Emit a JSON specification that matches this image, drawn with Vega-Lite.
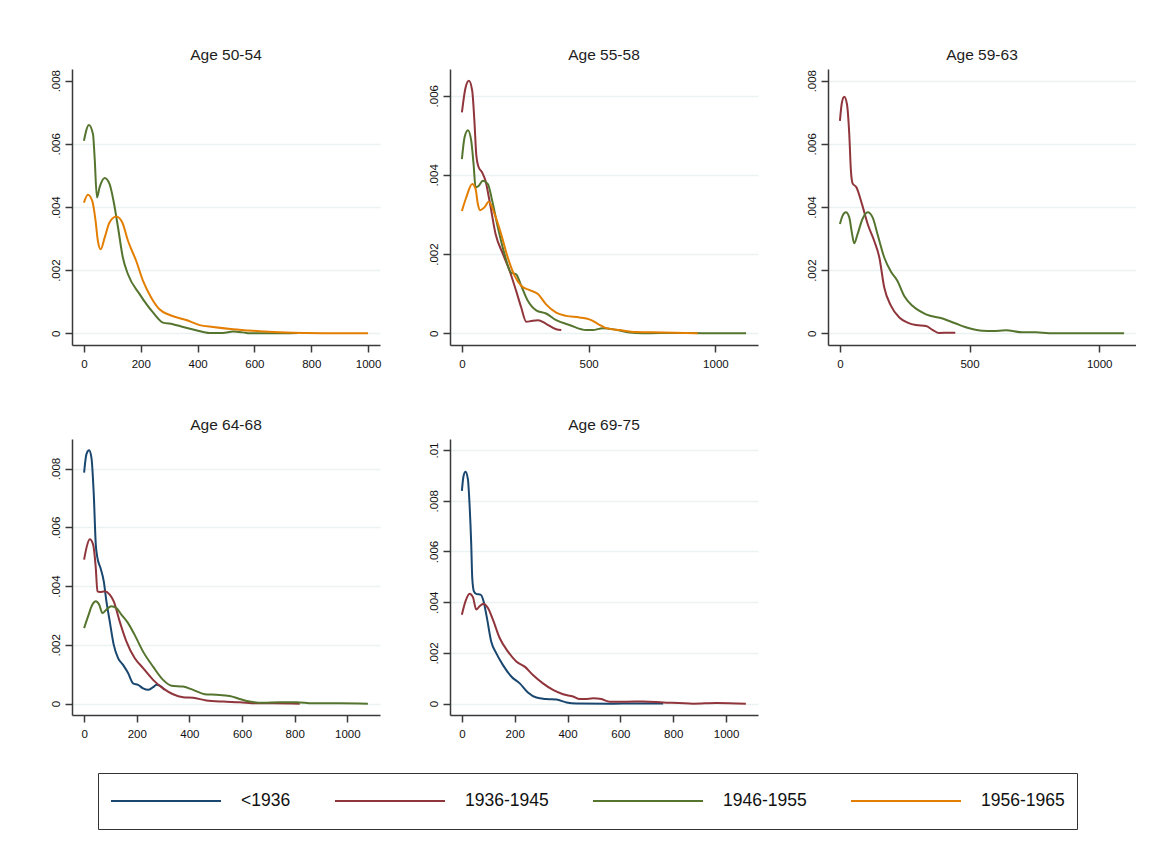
{
  "$schema": "https://vega.github.io/schema/vega-lite/v6.json",
  "padding": {"left": 49, "top": 47, "right": 0, "bottom": 0},
  "background": "white",
  "config": {
    "font": "Liberation Sans",
    "view": {"stroke": null},
    "title": {"font": "Liberation Sans", "fontSize": 15.5, "fontWeight": "normal", "color": "#1e1e1e", "offset": 6, "anchor": "middle"},
    "axis": {
      "domainColor": "#3a3a3a", "domainWidth": 1.5,
      "tickColor": "#3a3a3a", "tickWidth": 1.5, "tickSize": 7,
      "labelFont": "Liberation Sans", "labelFontSize": 11.5, "labelColor": "#111111",
      "gridColor": "#eaf2f3", "gridWidth": 1.3, "title": null
    },
    "axisX": {"grid": false, "labelPadding": 6, "labelFlush": false, "labelOverlap": false, "format": "d"},
    "axisY": {"grid": true, "labelAngle": 270, "labelAlign": "center", "labelBaseline": "bottom", "labelPadding": 4, "labelOverlap": false,
      "labelExpr": "datum.value == 0 ? '0' : replace(format(datum.value, '~g'), '0.', '.')"},
    "line": {"strokeWidth": 2, "interpolate": "monotone"}
  },
  "datasets": {
    "curves": [
      {"p":"Age 50-54","c":"1946-1955","x":0,"y":0.0061},{"p":"Age 50-54","c":"1946-1955","x":17.6,"y":0.0066},{"p":"Age 50-54","c":"1946-1955","x":32,"y":0.0063},{"p":"Age 50-54","c":"1946-1955","x":37.6,"y":0.00557},{"p":"Age 50-54","c":"1946-1955","x":45.8,"y":0.0043},{"p":"Age 50-54","c":"1946-1955","x":55,"y":0.00462},{"p":"Age 50-54","c":"1946-1955","x":73,"y":0.00492},{"p":"Age 50-54","c":"1946-1955","x":90,"y":0.00473},{"p":"Age 50-54","c":"1946-1955","x":104,"y":0.0042},{"p":"Age 50-54","c":"1946-1955","x":120,"y":0.00335},{"p":"Age 50-54","c":"1946-1955","x":137,"y":0.0024},{"p":"Age 50-54","c":"1946-1955","x":155,"y":0.00187},{"p":"Age 50-54","c":"1946-1955","x":196,"y":0.00124},{"p":"Age 50-54","c":"1946-1955","x":243,"y":0.00066},{"p":"Age 50-54","c":"1946-1955","x":278,"y":0.00034},{"p":"Age 50-54","c":"1946-1955","x":313,"y":0.00029},{"p":"Age 50-54","c":"1946-1955","x":349,"y":0.0002},{"p":"Age 50-54","c":"1946-1955","x":395,"y":0.0001},{"p":"Age 50-54","c":"1946-1955","x":442,"y":0.00001},{"p":"Age 50-54","c":"1946-1955","x":489,"y":0.00001},{"p":"Age 50-54","c":"1946-1955","x":525,"y":0.00006},{"p":"Age 50-54","c":"1946-1955","x":560,"y":0.00003},{"p":"Age 50-54","c":"1946-1955","x":583,"y":0},{"p":"Age 50-54","c":"1946-1955","x":665,"y":0},{"p":"Age 50-54","c":"1946-1955","x":753,"y":0.00001},
      {"p":"Age 50-54","c":"1956-1965","x":0,"y":0.00414},{"p":"Age 50-54","c":"1956-1965","x":14,"y":0.00439},{"p":"Age 50-54","c":"1956-1965","x":29,"y":0.0042},{"p":"Age 50-54","c":"1956-1965","x":41,"y":0.00356},{"p":"Age 50-54","c":"1956-1965","x":49,"y":0.00293},{"p":"Age 50-54","c":"1956-1965","x":59,"y":0.00266},{"p":"Age 50-54","c":"1956-1965","x":73,"y":0.00303},{"p":"Age 50-54","c":"1956-1965","x":90,"y":0.00351},{"p":"Age 50-54","c":"1956-1965","x":114,"y":0.0037},{"p":"Age 50-54","c":"1956-1965","x":135,"y":0.00351},{"p":"Age 50-54","c":"1956-1965","x":155,"y":0.00293},{"p":"Age 50-54","c":"1956-1965","x":184,"y":0.00229},{"p":"Age 50-54","c":"1956-1965","x":208,"y":0.00166},{"p":"Age 50-54","c":"1956-1965","x":237,"y":0.00113},{"p":"Age 50-54","c":"1956-1965","x":266,"y":0.00076},{"p":"Age 50-54","c":"1956-1965","x":302,"y":0.00058},{"p":"Age 50-54","c":"1956-1965","x":360,"y":0.00042},{"p":"Age 50-54","c":"1956-1965","x":407,"y":0.00026},{"p":"Age 50-54","c":"1956-1965","x":454,"y":0.0002},{"p":"Age 50-54","c":"1956-1965","x":525,"y":0.00013},{"p":"Age 50-54","c":"1956-1965","x":595,"y":0.00008},{"p":"Age 50-54","c":"1956-1965","x":665,"y":0.00004},{"p":"Age 50-54","c":"1956-1965","x":783,"y":0.00001},{"p":"Age 50-54","c":"1956-1965","x":900,"y":0},{"p":"Age 50-54","c":"1956-1965","x":1000,"y":0},

      {"p":"Age 55-58","c":"1936-1945","x":0,"y":0.00558},{"p":"Age 55-58","c":"1936-1945","x":14.5,"y":0.00621},{"p":"Age 55-58","c":"1936-1945","x":27.6,"y":0.00638},{"p":"Age 55-58","c":"1936-1945","x":40.7,"y":0.00612},{"p":"Age 55-58","c":"1936-1945","x":50,"y":0.00528},{"p":"Age 55-58","c":"1936-1945","x":56.5,"y":0.00452},{"p":"Age 55-58","c":"1936-1945","x":65.7,"y":0.0042},{"p":"Age 55-58","c":"1936-1945","x":80,"y":0.00406},{"p":"Age 55-58","c":"1936-1945","x":93,"y":0.00385},{"p":"Age 55-58","c":"1936-1945","x":109,"y":0.00334},{"p":"Age 55-58","c":"1936-1945","x":133,"y":0.0025},{"p":"Age 55-58","c":"1936-1945","x":162,"y":0.002},{"p":"Age 55-58","c":"1936-1945","x":188,"y":0.00158},{"p":"Age 55-58","c":"1936-1945","x":214,"y":0.00107},{"p":"Age 55-58","c":"1936-1945","x":234,"y":0.00065},{"p":"Age 55-58","c":"1936-1945","x":254,"y":0.00029},{"p":"Age 55-58","c":"1936-1945","x":273,"y":0.00031},{"p":"Age 55-58","c":"1936-1945","x":300,"y":0.00033},{"p":"Age 55-58","c":"1936-1945","x":332,"y":0.00024},{"p":"Age 55-58","c":"1936-1945","x":372,"y":0.0001},{"p":"Age 55-58","c":"1936-1945","x":392,"y":0.00008},
      {"p":"Age 55-58","c":"1946-1955","x":0,"y":0.0044},{"p":"Age 55-58","c":"1946-1955","x":10.5,"y":0.00495},{"p":"Age 55-58","c":"1946-1955","x":23.7,"y":0.00513},{"p":"Age 55-58","c":"1946-1955","x":36.8,"y":0.00486},{"p":"Age 55-58","c":"1946-1955","x":46,"y":0.00427},{"p":"Age 55-58","c":"1946-1955","x":54,"y":0.00368},{"p":"Age 55-58","c":"1946-1955","x":65.7,"y":0.00372},{"p":"Age 55-58","c":"1946-1955","x":82.8,"y":0.00385},{"p":"Age 55-58","c":"1946-1955","x":102.5,"y":0.00377},{"p":"Age 55-58","c":"1946-1955","x":119.6,"y":0.00334},{"p":"Age 55-58","c":"1946-1955","x":142,"y":0.00267},{"p":"Age 55-58","c":"1946-1955","x":168,"y":0.002},{"p":"Age 55-58","c":"1946-1955","x":194,"y":0.00153},{"p":"Age 55-58","c":"1946-1955","x":214,"y":0.00149},{"p":"Age 55-58","c":"1946-1955","x":234,"y":0.0012},{"p":"Age 55-58","c":"1946-1955","x":260,"y":0.00082},{"p":"Age 55-58","c":"1946-1955","x":293,"y":0.00058},{"p":"Age 55-58","c":"1946-1955","x":332,"y":0.0005},{"p":"Age 55-58","c":"1946-1955","x":372,"y":0.00033},{"p":"Age 55-58","c":"1946-1955","x":424,"y":0.00021},{"p":"Age 55-58","c":"1946-1955","x":490,"y":0.00008},{"p":"Age 55-58","c":"1946-1955","x":516,"y":0.00008},{"p":"Age 55-58","c":"1946-1955","x":556,"y":0.00013},{"p":"Age 55-58","c":"1946-1955","x":608,"y":0.00009},{"p":"Age 55-58","c":"1946-1955","x":661,"y":0.00002},{"p":"Age 55-58","c":"1946-1955","x":714,"y":0},{"p":"Age 55-58","c":"1946-1955","x":845,"y":0.00001},{"p":"Age 55-58","c":"1946-1955","x":976,"y":0},{"p":"Age 55-58","c":"1946-1955","x":1121,"y":0},
      {"p":"Age 55-58","c":"1956-1965","x":0,"y":0.00309},{"p":"Age 55-58","c":"1956-1965","x":17,"y":0.00343},{"p":"Age 55-58","c":"1956-1965","x":40.7,"y":0.00377},{"p":"Age 55-58","c":"1956-1965","x":54,"y":0.00364},{"p":"Age 55-58","c":"1956-1965","x":63,"y":0.00326},{"p":"Age 55-58","c":"1956-1965","x":72,"y":0.00311},{"p":"Age 55-58","c":"1956-1965","x":89,"y":0.00318},{"p":"Age 55-58","c":"1956-1965","x":106,"y":0.00332},{"p":"Age 55-58","c":"1956-1965","x":129,"y":0.00301},{"p":"Age 55-58","c":"1956-1965","x":155,"y":0.0025},{"p":"Age 55-58","c":"1956-1965","x":181,"y":0.00191},{"p":"Age 55-58","c":"1956-1965","x":208,"y":0.00145},{"p":"Age 55-58","c":"1956-1965","x":234,"y":0.0012},{"p":"Age 55-58","c":"1956-1965","x":267,"y":0.00109},{"p":"Age 55-58","c":"1956-1965","x":300,"y":0.00099},{"p":"Age 55-58","c":"1956-1965","x":332,"y":0.00073},{"p":"Age 55-58","c":"1956-1965","x":372,"y":0.00052},{"p":"Age 55-58","c":"1956-1965","x":411,"y":0.00044},{"p":"Age 55-58","c":"1956-1965","x":464,"y":0.0004},{"p":"Age 55-58","c":"1956-1965","x":503,"y":0.00035},{"p":"Age 55-58","c":"1956-1965","x":536,"y":0.00024},{"p":"Age 55-58","c":"1956-1965","x":569,"y":0.00013},{"p":"Age 55-58","c":"1956-1965","x":622,"y":0.00008},{"p":"Age 55-58","c":"1956-1965","x":687,"y":0.00003},{"p":"Age 55-58","c":"1956-1965","x":792,"y":0.00002},{"p":"Age 55-58","c":"1956-1965","x":930,"y":0},

      {"p":"Age 59-63","c":"1936-1945","x":0,"y":0.00673},{"p":"Age 59-63","c":"1936-1945","x":7.7,"y":0.00731},{"p":"Age 59-63","c":"1936-1945","x":16.7,"y":0.00749},{"p":"Age 59-63","c":"1936-1945","x":27,"y":0.00726},{"p":"Age 59-63","c":"1936-1945","x":36,"y":0.00631},{"p":"Age 59-63","c":"1936-1945","x":42.4,"y":0.00515},{"p":"Age 59-63","c":"1936-1945","x":48.8,"y":0.00475},{"p":"Age 59-63","c":"1936-1945","x":64,"y":0.00462},{"p":"Age 59-63","c":"1936-1945","x":85,"y":0.00409},{"p":"Age 59-63","c":"1936-1945","x":107,"y":0.00346},{"p":"Age 59-63","c":"1936-1945","x":132,"y":0.00293},{"p":"Age 59-63","c":"1936-1945","x":152,"y":0.0024},{"p":"Age 59-63","c":"1936-1945","x":171,"y":0.00145},{"p":"Age 59-63","c":"1936-1945","x":197,"y":0.00087},{"p":"Age 59-63","c":"1936-1945","x":229,"y":0.0005},{"p":"Age 59-63","c":"1936-1945","x":261,"y":0.00034},{"p":"Age 59-63","c":"1936-1945","x":293,"y":0.00026},{"p":"Age 59-63","c":"1936-1945","x":332,"y":0.00023},{"p":"Age 59-63","c":"1936-1945","x":357,"y":0.00011},{"p":"Age 59-63","c":"1936-1945","x":383,"y":0.00001},{"p":"Age 59-63","c":"1936-1945","x":422,"y":0.00002},{"p":"Age 59-63","c":"1936-1945","x":445,"y":0.00002},
      {"p":"Age 59-63","c":"1946-1955","x":0,"y":0.00346},{"p":"Age 59-63","c":"1946-1955","x":10,"y":0.00372},{"p":"Age 59-63","c":"1946-1955","x":23,"y":0.00383},{"p":"Age 59-63","c":"1946-1955","x":36,"y":0.00367},{"p":"Age 59-63","c":"1946-1955","x":46,"y":0.00319},{"p":"Age 59-63","c":"1946-1955","x":55,"y":0.00285},{"p":"Age 59-63","c":"1946-1955","x":68,"y":0.00314},{"p":"Age 59-63","c":"1946-1955","x":87,"y":0.00362},{"p":"Age 59-63","c":"1946-1955","x":107,"y":0.00383},{"p":"Age 59-63","c":"1946-1955","x":126,"y":0.00367},{"p":"Age 59-63","c":"1946-1955","x":145,"y":0.00314},{"p":"Age 59-63","c":"1946-1955","x":171,"y":0.0024},{"p":"Age 59-63","c":"1946-1955","x":197,"y":0.00195},{"p":"Age 59-63","c":"1946-1955","x":222,"y":0.00166},{"p":"Age 59-63","c":"1946-1955","x":248,"y":0.00118},{"p":"Age 59-63","c":"1946-1955","x":280,"y":0.00087},{"p":"Age 59-63","c":"1946-1955","x":332,"y":0.0006},{"p":"Age 59-63","c":"1946-1955","x":396,"y":0.00047},{"p":"Age 59-63","c":"1946-1955","x":447,"y":0.00031},{"p":"Age 59-63","c":"1946-1955","x":499,"y":0.00016},{"p":"Age 59-63","c":"1946-1955","x":550,"y":0.00008},{"p":"Age 59-63","c":"1946-1955","x":589,"y":0.00007},{"p":"Age 59-63","c":"1946-1955","x":640,"y":0.0001},{"p":"Age 59-63","c":"1946-1955","x":704,"y":0.00003},{"p":"Age 59-63","c":"1946-1955","x":756,"y":0.00003},{"p":"Age 59-63","c":"1946-1955","x":807,"y":0},{"p":"Age 59-63","c":"1946-1955","x":923,"y":0},{"p":"Age 59-63","c":"1946-1955","x":1096,"y":0},

      {"p":"Age 64-68","c":"<1936","x":0,"y":0.00786},{"p":"Age 64-68","c":"<1936","x":8.9,"y":0.00849},{"p":"Age 64-68","c":"<1936","x":19,"y":0.00862},{"p":"Age 64-68","c":"<1936","x":27.8,"y":0.00837},{"p":"Age 64-68","c":"<1936","x":36.7,"y":0.00712},{"p":"Age 64-68","c":"<1936","x":44.3,"y":0.00542},{"p":"Age 64-68","c":"<1936","x":50.6,"y":0.00496},{"p":"Age 64-68","c":"<1936","x":62,"y":0.00462},{"p":"Age 64-68","c":"<1936","x":74.7,"y":0.00416},{"p":"Age 64-68","c":"<1936","x":84.8,"y":0.00348},{"p":"Age 64-68","c":"<1936","x":97.4,"y":0.0028},{"p":"Age 64-68","c":"<1936","x":112.6,"y":0.002},{"p":"Age 64-68","c":"<1936","x":129,"y":0.00155},{"p":"Age 64-68","c":"<1936","x":148,"y":0.00132},{"p":"Age 64-68","c":"<1936","x":167,"y":0.00104},{"p":"Age 64-68","c":"<1936","x":186,"y":0.00069},{"p":"Age 64-68","c":"<1936","x":205,"y":0.00064},{"p":"Age 64-68","c":"<1936","x":224,"y":0.00052},{"p":"Age 64-68","c":"<1936","x":243,"y":0.00047},{"p":"Age 64-68","c":"<1936","x":262,"y":0.00056},{"p":"Age 64-68","c":"<1936","x":275,"y":0.00064},{"p":"Age 64-68","c":"<1936","x":287,"y":0.00061},{"p":"Age 64-68","c":"<1936","x":306,"y":0.00047},
      {"p":"Age 64-68","c":"1936-1945","x":0,"y":0.0049},{"p":"Age 64-68","c":"1936-1945","x":8.9,"y":0.0053},{"p":"Age 64-68","c":"1936-1945","x":21.5,"y":0.00559},{"p":"Age 64-68","c":"1936-1945","x":34,"y":0.00542},{"p":"Age 64-68","c":"1936-1945","x":44.3,"y":0.00462},{"p":"Age 64-68","c":"1936-1945","x":50.6,"y":0.00382},{"p":"Age 64-68","c":"1936-1945","x":59.5,"y":0.0038},{"p":"Age 64-68","c":"1936-1945","x":78.5,"y":0.00382},{"p":"Age 64-68","c":"1936-1945","x":97.4,"y":0.00371},{"p":"Age 64-68","c":"1936-1945","x":112.6,"y":0.00348},{"p":"Age 64-68","c":"1936-1945","x":135,"y":0.0028},{"p":"Age 64-68","c":"1936-1945","x":160.5,"y":0.00212},{"p":"Age 64-68","c":"1936-1945","x":192,"y":0.00155},{"p":"Age 64-68","c":"1936-1945","x":224,"y":0.00121},{"p":"Age 64-68","c":"1936-1945","x":262,"y":0.00081},{"p":"Age 64-68","c":"1936-1945","x":300,"y":0.00052},{"p":"Age 64-68","c":"1936-1945","x":338,"y":0.00032},{"p":"Age 64-68","c":"1936-1945","x":376,"y":0.00022},{"p":"Age 64-68","c":"1936-1945","x":414,"y":0.0002},{"p":"Age 64-68","c":"1936-1945","x":464,"y":0.00011},{"p":"Age 64-68","c":"1936-1945","x":528,"y":0.00007},{"p":"Age 64-68","c":"1936-1945","x":591,"y":0.00005},{"p":"Age 64-68","c":"1936-1945","x":654,"y":0.00001},{"p":"Age 64-68","c":"1936-1945","x":717,"y":0.00001},{"p":"Age 64-68","c":"1936-1945","x":819,"y":0},
      {"p":"Age 64-68","c":"1946-1955","x":0,"y":0.00257},{"p":"Age 64-68","c":"1946-1955","x":15,"y":0.00297},{"p":"Age 64-68","c":"1946-1955","x":31.6,"y":0.00337},{"p":"Age 64-68","c":"1946-1955","x":44.3,"y":0.00348},{"p":"Age 64-68","c":"1946-1955","x":57,"y":0.00337},{"p":"Age 64-68","c":"1946-1955","x":69.6,"y":0.00308},{"p":"Age 64-68","c":"1946-1955","x":84.8,"y":0.0032},{"p":"Age 64-68","c":"1946-1955","x":103.8,"y":0.00331},{"p":"Age 64-68","c":"1946-1955","x":122.7,"y":0.00325},{"p":"Age 64-68","c":"1946-1955","x":141.7,"y":0.00303},{"p":"Age 64-68","c":"1946-1955","x":167,"y":0.00274},{"p":"Age 64-68","c":"1946-1955","x":192,"y":0.00234},{"p":"Age 64-68","c":"1946-1955","x":224,"y":0.00177},{"p":"Age 64-68","c":"1946-1955","x":262,"y":0.00126},{"p":"Age 64-68","c":"1946-1955","x":300,"y":0.00081},{"p":"Age 64-68","c":"1946-1955","x":331.5,"y":0.00061},{"p":"Age 64-68","c":"1946-1955","x":376,"y":0.00058},{"p":"Age 64-68","c":"1946-1955","x":414,"y":0.00047},{"p":"Age 64-68","c":"1946-1955","x":458,"y":0.00032},{"p":"Age 64-68","c":"1946-1955","x":502,"y":0.0003},{"p":"Age 64-68","c":"1946-1955","x":553,"y":0.00026},{"p":"Age 64-68","c":"1946-1955","x":591,"y":0.00016},{"p":"Age 64-68","c":"1946-1955","x":629,"y":0.00007},{"p":"Age 64-68","c":"1946-1955","x":679.5,"y":0.00003},{"p":"Age 64-68","c":"1946-1955","x":743,"y":0.00005},{"p":"Age 64-68","c":"1946-1955","x":806,"y":0.00005},{"p":"Age 64-68","c":"1946-1955","x":869,"y":0.00001},{"p":"Age 64-68","c":"1946-1955","x":970,"y":0.00001},{"p":"Age 64-68","c":"1946-1955","x":1078,"y":0},

      {"p":"Age 69-75","c":"<1936","x":0,"y":0.00839},{"p":"Age 69-75","c":"<1936","x":6.3,"y":0.00898},{"p":"Age 69-75","c":"<1936","x":13.9,"y":0.00914},{"p":"Age 69-75","c":"<1936","x":22.7,"y":0.00885},{"p":"Age 69-75","c":"<1936","x":29,"y":0.00786},{"p":"Age 69-75","c":"<1936","x":35.4,"y":0.00628},{"p":"Age 69-75","c":"<1936","x":39.2,"y":0.00496},{"p":"Age 69-75","c":"<1936","x":45.5,"y":0.00443},{"p":"Age 69-75","c":"<1936","x":54.3,"y":0.00433},{"p":"Age 69-75","c":"<1936","x":70.8,"y":0.0043},{"p":"Age 69-75","c":"<1936","x":82,"y":0.00404},{"p":"Age 69-75","c":"<1936","x":94.8,"y":0.00338},{"p":"Age 69-75","c":"<1936","x":111,"y":0.00245},{"p":"Age 69-75","c":"<1936","x":130,"y":0.00199},{"p":"Age 69-75","c":"<1936","x":155,"y":0.00153},{"p":"Age 69-75","c":"<1936","x":187,"y":0.00107},{"p":"Age 69-75","c":"<1936","x":219,"y":0.0008},{"p":"Age 69-75","c":"<1936","x":250,"y":0.00044},{"p":"Age 69-75","c":"<1936","x":282,"y":0.00024},{"p":"Age 69-75","c":"<1936","x":320,"y":0.00018},{"p":"Age 69-75","c":"<1936","x":358,"y":0.00016},{"p":"Age 69-75","c":"<1936","x":396,"y":0.00005},{"p":"Age 69-75","c":"<1936","x":433.5,"y":0.00001},{"p":"Age 69-75","c":"<1936","x":560,"y":0},{"p":"Age 69-75","c":"<1936","x":686,"y":0.00001},{"p":"Age 69-75","c":"<1936","x":762,"y":0.00001},
      {"p":"Age 69-75","c":"1936-1945","x":0,"y":0.00351},{"p":"Age 69-75","c":"1936-1945","x":13.9,"y":0.00404},{"p":"Age 69-75","c":"1936-1945","x":29,"y":0.00433},{"p":"Age 69-75","c":"1936-1945","x":41.7,"y":0.0042},{"p":"Age 69-75","c":"1936-1945","x":54.3,"y":0.00371},{"p":"Age 69-75","c":"1936-1945","x":67,"y":0.00384},{"p":"Age 69-75","c":"1936-1945","x":82,"y":0.00394},{"p":"Age 69-75","c":"1936-1945","x":98.6,"y":0.00377},{"p":"Age 69-75","c":"1936-1945","x":117.5,"y":0.00331},{"p":"Age 69-75","c":"1936-1945","x":143,"y":0.00259},{"p":"Age 69-75","c":"1936-1945","x":174,"y":0.00206},{"p":"Age 69-75","c":"1936-1945","x":206,"y":0.00166},{"p":"Age 69-75","c":"1936-1945","x":237.6,"y":0.00146},{"p":"Age 69-75","c":"1936-1945","x":269,"y":0.00113},{"p":"Age 69-75","c":"1936-1945","x":307,"y":0.0008},{"p":"Age 69-75","c":"1936-1945","x":345,"y":0.00054},{"p":"Age 69-75","c":"1936-1945","x":383,"y":0.00037},{"p":"Age 69-75","c":"1936-1945","x":421,"y":0.00028},{"p":"Age 69-75","c":"1936-1945","x":446,"y":0.00018},{"p":"Age 69-75","c":"1936-1945","x":465,"y":0.00018},{"p":"Age 69-75","c":"1936-1945","x":497,"y":0.00021},{"p":"Age 69-75","c":"1936-1945","x":528,"y":0.00018},{"p":"Age 69-75","c":"1936-1945","x":560,"y":0.00008},{"p":"Age 69-75","c":"1936-1945","x":623,"y":0.00008},{"p":"Age 69-75","c":"1936-1945","x":686,"y":0.00009},{"p":"Age 69-75","c":"1936-1945","x":762,"y":0.00005},{"p":"Age 69-75","c":"1936-1945","x":876,"y":0},{"p":"Age 69-75","c":"1936-1945","x":964,"y":0.00003},{"p":"Age 69-75","c":"1936-1945","x":1075,"y":0}
    ]
  },
  "columns": 3,
  "spacing": {"row": 94, "column": 70},
  "bounds": "flush",
  "resolve": {"scale": {"color": "shared"}},
  "concat": [
    {
      "title": "Age 50-54",
      "width": 308, "height": 276,
      "data": {"name": "curves"},
      "transform": [{"filter": "datum.p == 'Age 50-54'"}],
      "mark": "line",
      "encoding": {
        "x": {"field": "x", "type": "quantitative", "scale": {"domain": [-42, 1042], "nice": false, "zero": false}, "axis": {"values": [0, 200, 400, 600, 800, 1000]}},
        "y": {"field": "y", "type": "quantitative", "scale": {"domain": [-0.00037, 0.00837], "nice": false, "zero": false}, "axis": {"values": [0, 0.002, 0.004, 0.006, 0.008], "gridOpacity": {"condition": {"test": "datum.value > 0.007", "value": 0}, "value": 1}}},
        "color": {"field": "c", "type": "nominal", "scale": {"domain": ["<1936", "1936-1945", "1946-1955", "1956-1965"], "range": ["#1a476f", "#90353b", "#55752f", "#e37e00"]},
          "legend": {"title": null, "orient": "none", "legendX": 26, "legendY": 704, "direction": "horizontal", "columns": 4,
            "symbolType": "stroke", "symbolSize": 12100, "symbolStrokeWidth": 3, "clipHeight": 32,
            "labelFont": "Liberation Sans", "labelFontSize": 17.5, "labelColor": "#111111", "labelOffset": 19, "labelLimit": 300,
            "columnPadding": 43, "padding": 12, "strokeColor": "#333333", "fillColor": "white"}}
      }
    },
    {
      "title": "Age 55-58",
      "width": 308, "height": 276,
      "data": {"name": "curves"},
      "transform": [{"filter": "datum.p == 'Age 55-58'"}],
      "mark": "line",
      "encoding": {
        "x": {"field": "x", "type": "quantitative", "scale": {"domain": [-47, 1168], "nice": false, "zero": false}, "axis": {"values": [0, 500, 1000]}},
        "y": {"field": "y", "type": "quantitative", "scale": {"domain": [-0.000296, 0.006675], "nice": false, "zero": false}, "axis": {"values": [0, 0.002, 0.004, 0.006]}},
        "color": {"field": "c", "type": "nominal"}
      }
    },
    {
      "title": "Age 59-63",
      "width": 308, "height": 276,
      "data": {"name": "curves"},
      "transform": [{"filter": "datum.p == 'Age 59-63'"}],
      "mark": "line",
      "encoding": {
        "x": {"field": "x", "type": "quantitative", "scale": {"domain": [-46, 1142], "nice": false, "zero": false}, "axis": {"values": [0, 500, 1000]}},
        "y": {"field": "y", "type": "quantitative", "scale": {"domain": [-0.00037, 0.00837], "nice": false, "zero": false}, "axis": {"values": [0, 0.002, 0.004, 0.006, 0.008]}},
        "color": {"field": "c", "type": "nominal"}
      }
    },
    {
      "title": "Age 64-68",
      "width": 308, "height": 276,
      "data": {"name": "curves"},
      "transform": [{"filter": "datum.p == 'Age 64-68'"}],
      "mark": "line",
      "encoding": {
        "x": {"field": "x", "type": "quantitative", "scale": {"domain": [-46, 1124], "nice": false, "zero": false}, "axis": {"values": [0, 200, 400, 600, 800, 1000]}},
        "y": {"field": "y", "type": "quantitative", "scale": {"domain": [-0.000386, 0.009004], "nice": false, "zero": false}, "axis": {"values": [0, 0.002, 0.004, 0.006, 0.008]}},
        "color": {"field": "c", "type": "nominal"}
      }
    },
    {
      "title": "Age 69-75",
      "width": 308, "height": 276,
      "data": {"name": "curves"},
      "transform": [{"filter": "datum.p == 'Age 69-75'"}],
      "mark": "line",
      "encoding": {
        "x": {"field": "x", "type": "quantitative", "scale": {"domain": [-45, 1121], "nice": false, "zero": false}, "axis": {"values": [0, 200, 400, 600, 800, 1000]}},
        "y": {"field": "y", "type": "quantitative", "scale": {"domain": [-0.000447, 0.010435], "nice": false, "zero": false}, "axis": {"values": [0, 0.002, 0.004, 0.006, 0.008, 0.01]}},
        "color": {"field": "c", "type": "nominal"}
      }
    }
  ]
}
